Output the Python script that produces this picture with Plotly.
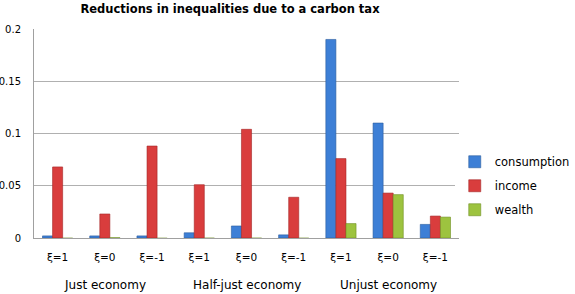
import plotly.graph_objects as go

groups = ["Just economy"] * 3 + ["Half-just economy"] * 3 + ["Unjust economy"] * 3
xi_labels = ["ξ=1", "ξ=0", "ξ=-1"] * 3
consumption = [0.002, 0.002, 0.002, 0.005, 0.0115, 0.003, 0.190, 0.110, 0.013]
income = [0.068, 0.023, 0.088, 0.051, 0.104, 0.039, 0.076, 0.043, 0.021]
wealth = [-0.0004, 0.0003, -0.001, -0.0003, -0.0003, -0.0004, 0.0138, 0.0415, 0.020]

series = [("consumption", consumption, "#3D7FD6", "#2A5C9E"),
          ("income", income, "#D93D3D", "#A52626"),
          ("wealth", wealth, "#9DC33F", "#6E8F22")]

keys = [g + "|" + x for g, x in zip(groups, xi_labels)]

fig = go.Figure()
for name, vals, col, edge in series:
    fig.add_trace(go.Bar(name=name, x=keys, y=vals, legendgroup=name,
                         marker=dict(color=col, line=dict(color=edge, width=0.6))))

# group labels centred under each group of three categories
seen = []
for g in groups:
    if g not in seen:
        seen.append(g)
for g in seen:
    idx = [i for i, gg in enumerate(groups) if gg == g]
    mid = keys[idx[len(idx) // 2]]
    fig.add_annotation(x=mid, xref="x", y=0, yref="paper", yanchor="middle",
                       yshift=-47, text=g, showarrow=False,
                       font=dict(size=12, family="DejaVu Sans", color="#000"))

fig.update_layout(
    width=575, height=294,
    margin=dict(l=34, r=116, t=29, b=56, autoexpand=False),
    paper_bgcolor="white", plot_bgcolor="white",
    barmode="group", bargap=0.36, bargroupgap=0.0,
    font=dict(family="DejaVu Sans", size=11, color="#000000"),
    title=dict(text="<b>Reductions in inequalities due to a carbon tax</b>",
               x=0.4, xanchor="center", xref="container",
               y=1 - 9 / 294, yanchor="middle",
               font=dict(size=11.5, family="DejaVu Sans")),
    legend=dict(x=0.99, y=0.25, xanchor="left", yanchor="middle",
                font=dict(size=11.5), itemwidth=30, tracegroupgap=5,
                traceorder="grouped"),
    showlegend=True,
)
fig.update_xaxes(tickvals=keys, ticktext=xi_labels, showline=True,
                 linecolor="#A0A0A0", tickfont=dict(size=10.5), ticks="",
                 ticklabelstandoff=9, automargin=False)
fig.update_yaxes(range=[0, 0.2], tickvals=[0, 0.05, 0.1, 0.15, 0.2],
                 ticktext=["0", "0.05", "0.1", "0.15", "0.2"],
                 showgrid=True, gridcolor="#B0B0B0", gridwidth=1,
                 showline=True, linecolor="#A0A0A0", zeroline=False,
                 tickfont=dict(size=10), ticks="", automargin=False,
                 ticklabelstandoff=10)
fig.write_html("out.html", config={"displayModeBar": False},
               post_script="document.body.style.margin='0px';")
